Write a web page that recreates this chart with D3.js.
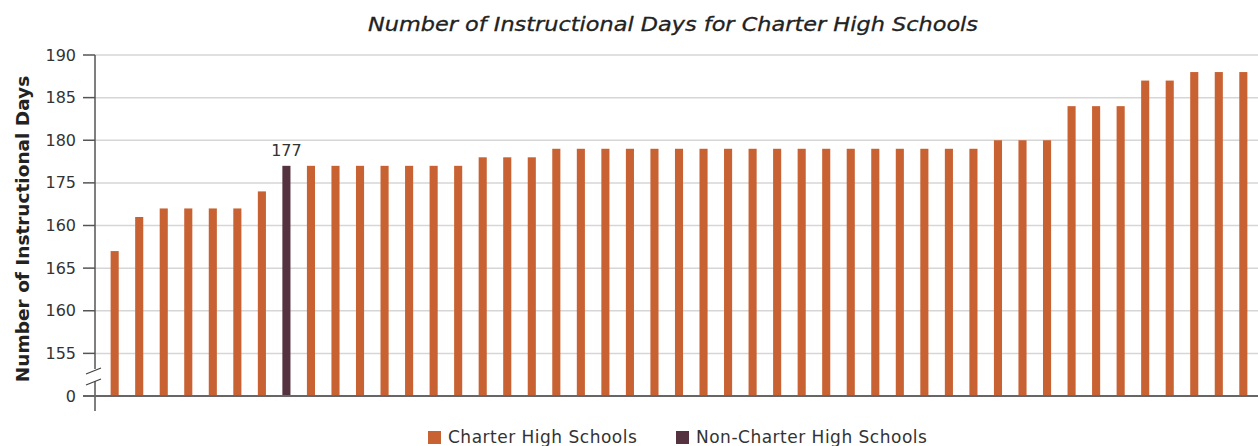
<!DOCTYPE html>
<html lang="en">
<head>
<meta charset="utf-8">
<style>
  body { margin: 0; background: white; }
  svg { display: block; font-family: "DejaVu Sans", sans-serif; }
  .grid line { stroke: #d6d6d6; stroke-width: 1.5px; }
  .tick-label { font-size: 16px; fill: #333; }
  .title { font-size: 19px; font-style: italic; fill: #222; stroke: #222; stroke-width: 0.3px; }
  .ytitle { font-size: 18.5px; font-weight: bold; fill: #222; }
  .legend text { font-size: 17px; fill: #333; letter-spacing: 0.5px; }
</style>
<script src="https://cdn.jsdelivr.net/npm/d3@7"></script>
</head>
<body>
<script>
// values, one per school
var days = [167, 171, 172, 172, 172, 172, 174, 177,
            177, 177, 177, 177, 177, 177, 177,
            178, 178, 178,
            179, 179, 179, 179, 179, 179, 179, 179, 179, 179, 179, 179, 179, 179, 179, 179, 179, 179,
            180, 180, 180,
            184, 184, 184,
            187, 187,
            188, 188, 188];
// only one bar is the non-charter school
var kinds = days.map(function(d, i) { return i === 7 ? "Non-Charter High Schools" : "Charter High Schools"; });
var tickValues = [190, 185, 180, 175, 170, 165, 160, 155, 150];
var tickLabels = ["190", "185", "180", "175", "160", "165", "160", "155", "0"];
var legendItems = ["Charter High Schools", "Non-Charter High Schools"];
var colors = { "Charter High Schools": "#c86232", "Non-Charter High Schools": "#55323f" };

var width = 1258, height = 446;

var svg = d3.select("body").append("svg")
    .attr("width", width)
    .attr("height", height);

var x = d3.scaleBand()
    .domain(d3.range(days.length))
    .range([102.4, 1255.6])
    .paddingInner(0.67)
    .paddingOuter(0.335);

var y = d3.scaleLinear()
    .domain([150, 190])
    .range([396, 55]);

// title
svg.append("text")
    .attr("class", "title")
    .attr("x", 673)
    .attr("y", 31)
    .attr("text-anchor", "middle")
    .attr("textLength", 610)
    .attr("lengthAdjust", "spacingAndGlyphs")
    .text("Number of Instructional Days for Charter High Schools");

// grid
svg.append("g").attr("class", "grid")
  .selectAll("line")
  .data(tickValues.filter(function(d) { return d > 150; }))
  .enter().append("line")
    .attr("x1", 95).attr("x2", width)
    .attr("y1", function(d) { return y(d); })
    .attr("y2", function(d) { return y(d); });

// bars
svg.append("g")
  .selectAll("rect")
  .data(days)
  .enter().append("rect")
    .attr("x", function(d, i) { return x(i); })
    .attr("width", x.bandwidth())
    .attr("y", function(d) { return y(d); })
    .attr("height", function(d) { return y(150) - y(d); })
    .attr("fill", function(d, i) { return colors[kinds[i]]; });

// label on the non charter bar
svg.append("text")
    .attr("class", "tick-label")
    .attr("x", x(7) + x.bandwidth() / 2)
    .attr("y", y(days[7]) - 10)
    .attr("text-anchor", "middle")
    .text(days[7]);

// y axis with break
var yAxis = svg.append("g");
yAxis.append("line")
    .attr("x1", 95).attr("x2", 95)
    .attr("y1", 55).attr("y2", 369)
    .attr("stroke", "#555").attr("stroke-width", 1.5);
yAxis.append("line")
    .attr("x1", 95).attr("x2", 95)
    .attr("y1", 381).attr("y2", 411)
    .attr("stroke", "#555").attr("stroke-width", 1.5);
yAxis.selectAll(".brk")
  .data([0, 11])
  .enter().append("line")
    .attr("x1", 86).attr("x2", 101)
    .attr("y1", function(d) { return 374 + d; })
    .attr("y2", function(d) { return 368 + d; })
    .attr("stroke", "#444").attr("stroke-width", 1.2);

yAxis.selectAll(".tk")
  .data(tickValues)
  .enter().append("line")
    .attr("x1", 83).attr("x2", 95)
    .attr("y1", function(d) { return y(d); })
    .attr("y2", function(d) { return y(d); })
    .attr("stroke", "#555").attr("stroke-width", 1.5);

yAxis.selectAll("text")
  .data(tickValues)
  .enter().append("text")
    .attr("class", "tick-label")
    .attr("x", 76)
    .attr("y", function(d) { return y(d); })
    .attr("dy", "0.35em")
    .attr("text-anchor", "end")
    .text(function(d, i) { return tickLabels[i]; });

// baseline
svg.append("line")
    .attr("x1", 83).attr("x2", width)
    .attr("y1", y(150)).attr("y2", y(150))
    .attr("stroke", "#666").attr("stroke-width", 2);

svg.append("text")
    .attr("class", "ytitle")
    .attr("transform", "translate(29,229) rotate(-90)")
    .attr("text-anchor", "middle")
    .text("Number of Instructional Days");

// legend
var legend = svg.append("g").attr("class", "legend");
var lx = [428, 676];
legendItems.forEach(function(name, i) {
  legend.append("rect")
      .attr("x", lx[i]).attr("y", 431)
      .attr("width", 13).attr("height", 13)
      .attr("fill", colors[name]);
  legend.append("text")
      .attr("x", lx[i] + 20).attr("y", 443)
      .text(name);
});
</script>
</body>
</html>
